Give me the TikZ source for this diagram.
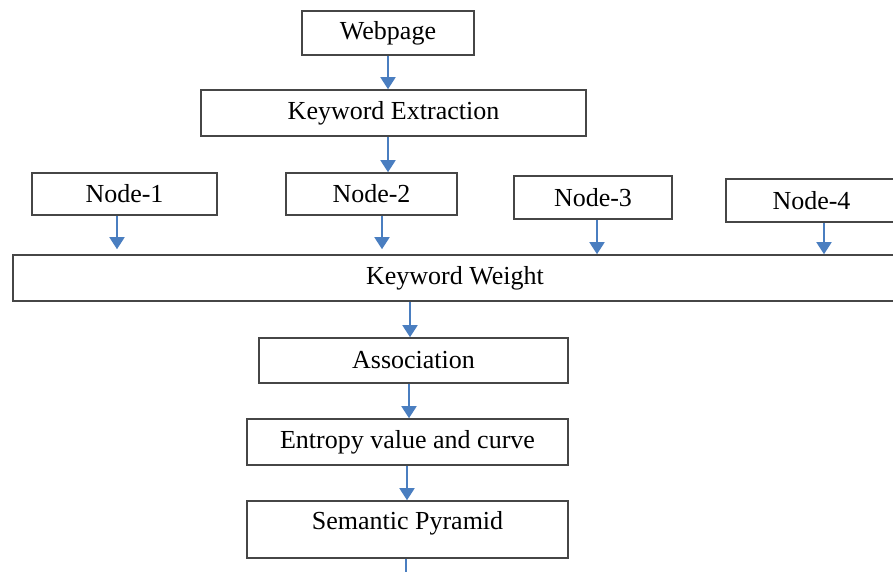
\documentclass[tikz,border=0pt]{standalone}
\usepackage{fontspec}
\setmainfont{Liberation Serif}
\usetikzlibrary{arrows.meta}
\definecolor{arrowblue}{RGB}{74,126,192}
\definecolor{boxgray}{RGB}{70,70,70}
\begin{document}
\begin{tikzpicture}[x=1pt,y=-1pt,
  box/.style={draw=boxgray,line width=1.6pt,fill=white,inner sep=0pt,
    font=\fontsize{26}{30}\selectfont},
  flow/.style={draw=arrowblue,line width=1.8pt,-{Triangle[width=15pt,length=12pt]}}]
\useasboundingbox (0,0) rectangle (893,571);
\node[box,minimum width=172,minimum height=44] (web) at (388,33) {Webpage};
\node[box,minimum width=385,minimum height=46] (ke) at (393.5,113) {Keyword Extraction};
\node[box,minimum width=185,minimum height=42] (n1) at (124.5,194) {Node-1};
\node[box,minimum width=171,minimum height=42] (n2) at (371.5,194) {Node-2};
\node[box,minimum width=158,minimum height=43] (n3) at (593,197.5) {Node-3};
\node[box,minimum width=171,minimum height=43] (n4) at (811.5,200.5) {Node-4};
\node[box,minimum width=884,minimum height=46] (kw) at (455,278) {Keyword Weight};
\node[box,minimum width=309,minimum height=45] (as) at (413.5,360.5) {Association};
\node[box,minimum width=321,minimum height=46] (en) at (407.5,442) {Entropy value and curve};
\node[box,minimum width=321,minimum height=57,text height=18pt,text depth=18pt] (sp) at (407.5,529.5) {Semantic Pyramid};
\coordinate (spout) at (406,580);

\draw[flow] (web.south) -- (web.south |- ke.north);
\draw[flow] ([xshift=-5.5pt]ke.south) -- ([xshift=-5.5pt]ke.south |- n2.north);
\draw[flow,shorten >=5pt] ([xshift=-7.5pt]n1.south) -- ([xshift=-7.5pt]n1.south |- kw.north);
\draw[flow,shorten >=5pt] ([xshift=10.5pt]n2.south) -- ([xshift=10.5pt]n2.south |- kw.north);
\draw[flow] ([xshift=4pt]n3.south) -- ([xshift=4pt]n3.south |- kw.north);
\draw[flow] ([xshift=12.5pt]n4.south) -- ([xshift=12.5pt]n4.south |- kw.north);
\draw[flow] ([xshift=-3.5pt]as.north |- kw.south) -- ([xshift=-3.5pt]as.north);
\draw[flow] ([xshift=1.5pt]en.north |- as.south) -- ([xshift=1.5pt]en.north);
\draw[flow] ([xshift=-0.5pt]sp.north |- en.south) -- ([xshift=-0.5pt]sp.north);
\draw[draw=arrowblue,line width=1.8pt] (spout |- sp.south) -- (spout);
\end{tikzpicture}
\end{document}
